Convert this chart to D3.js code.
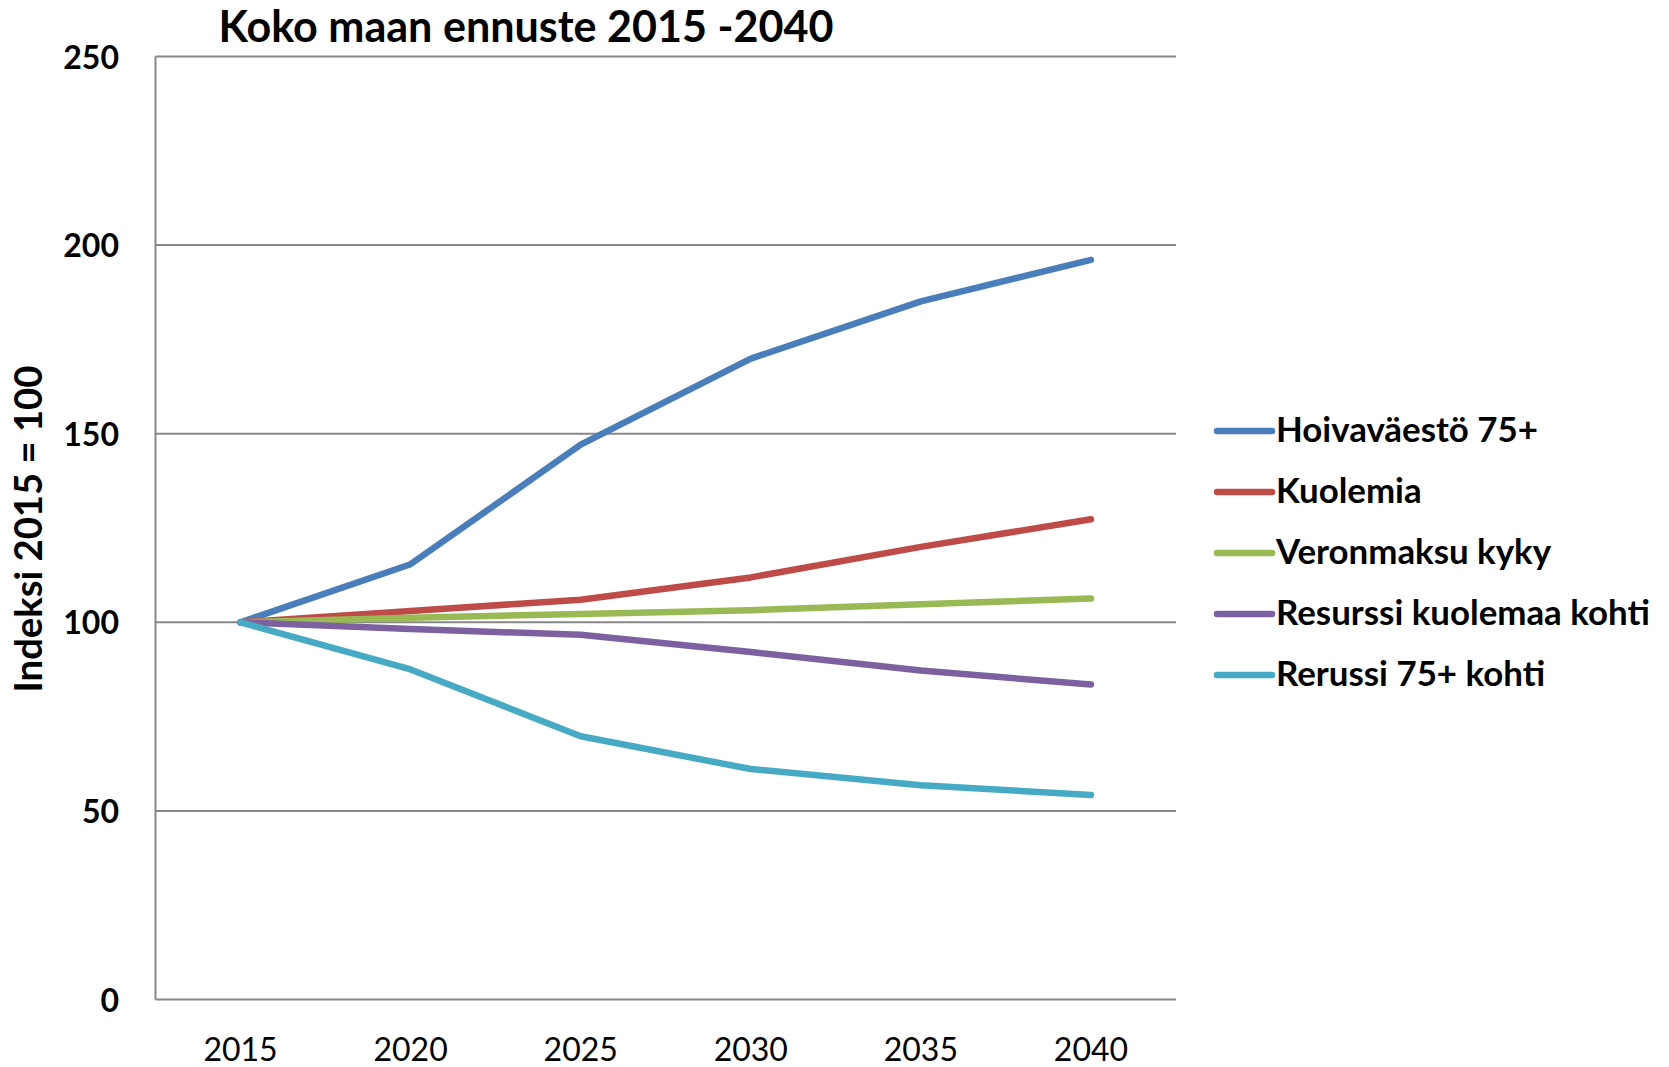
<!DOCTYPE html>
<html><head><meta charset="utf-8">
<script src="https://cdn.jsdelivr.net/npm/d3@7"></script>
<style>body{margin:0;background:#fff}svg{display:block}text{font-family:Lato,"Open Sans",sans-serif}</style>
</head><body><svg id="c" width="1669" height="1067"></svg>
<script>
const years = ["2015","2020","2025","2030","2035","2040"];
const seriesNames = ["Hoivaväestö 75+","Kuolemia","Veronmaksu kyky","Resurssi kuolemaa kohti","Rerussi 75+ kohti"];
const hoiva = [100,115.4,147.1,169.9,185.1,196.1];
const kuolemia = [100,103.0,106.0,111.9,120.0,127.3];
const veronmaksu = [100,101.2,102.2,103.2,104.8,106.3];
const resurssi = [100,98.2,96.7,92.1,87.2,83.5];
const rerussi = [100,87.5,69.8,61.1,56.8,54.2];
const yTicks = [0,50,100,150,200,250];
const colors = ["#4a7ebb","#be4b48","#98b954","#7d60a0","#46aac5"];
const seriesValues = [hoiva,kuolemia,veronmaksu,resurssi,rerussi];

const svg = d3.select("#c");
const L=155.5, R=1176, T=56.5, B=999.5;
const x = d3.scalePoint().domain(years).range([L,R]).padding(0.5);
const y = d3.scaleLinear().domain([0,250]).range([B,T]);

function fit(sel, w){ const n=sel.node(); const fs=parseFloat(sel.attr("font-size")); const cur=n.getComputedTextLength(); sel.attr("font-size", fs*w/cur); }

// gridlines
svg.append("g").selectAll("line").data(yTicks).join("line")
  .attr("x1",L).attr("x2",R).attr("y1",d=>y(d)).attr("y2",d=>y(d))
  .attr("stroke","#878787").attr("stroke-width",2);
svg.append("line").attr("x1",L).attr("x2",L).attr("y1",T).attr("y2",B).attr("stroke","#878787").attr("stroke-width",2);

// y tick labels
svg.append("g").selectAll("text").data(yTicks).join("text")
  .attr("x",119).attr("y",d=>y(d)+12).attr("text-anchor","end")
  .attr("font-weight","bold").attr("font-size",32).attr("fill","#000").text(d=>d);

// x tick labels
svg.append("g").selectAll("text").data(years).join("text")
  .attr("x",d=>x(d)).attr("y",1061).attr("text-anchor","middle")
  .attr("font-size",32).attr("fill","#000").text(d=>d);

// lines
const line = d3.line().x((d,i)=>x(years[i])).y(d=>y(d));
svg.append("g").selectAll("path").data(seriesValues).join("path")
  .attr("d",line).attr("fill","none").attr("stroke",(d,i)=>colors[i])
  .attr("stroke-width",6.5).attr("stroke-linecap","round").attr("stroke-linejoin","round");

// title
const t = svg.append("text").attr("x",526).attr("y",42).attr("text-anchor","middle")
  .attr("font-weight","bold").attr("font-size",36).text("Koko maan ennuste 2015 -2040");
fit(t,615);

// y axis title
const yt = svg.append("text").attr("transform","translate(42,529) rotate(-90)").attr("text-anchor","middle")
  .attr("font-weight","bold").attr("font-size",30).text("Indeksi 2015 = 100");
fit(yt,327);

// legend
const lg = svg.append("g").selectAll("g").data(seriesNames).join("g")
  .attr("transform",(d,i)=>`translate(1217,${431+i*61})`);
lg.append("line").attr("x1",0).attr("x2",55).attr("stroke",(d,i)=>colors[i]).attr("stroke-width",6.5).attr("stroke-linecap","round");
lg.append("text").attr("x",59).attr("y",11).attr("font-weight","bold").attr("font-size",30).text(d=>d);
const lt = lg.filter((d,i)=>i===3).select("text");
const base = lt.node().getComputedTextLength();
const fs = 30*374/base;
lg.selectAll("text").attr("font-size",fs);
</script></body></html>
